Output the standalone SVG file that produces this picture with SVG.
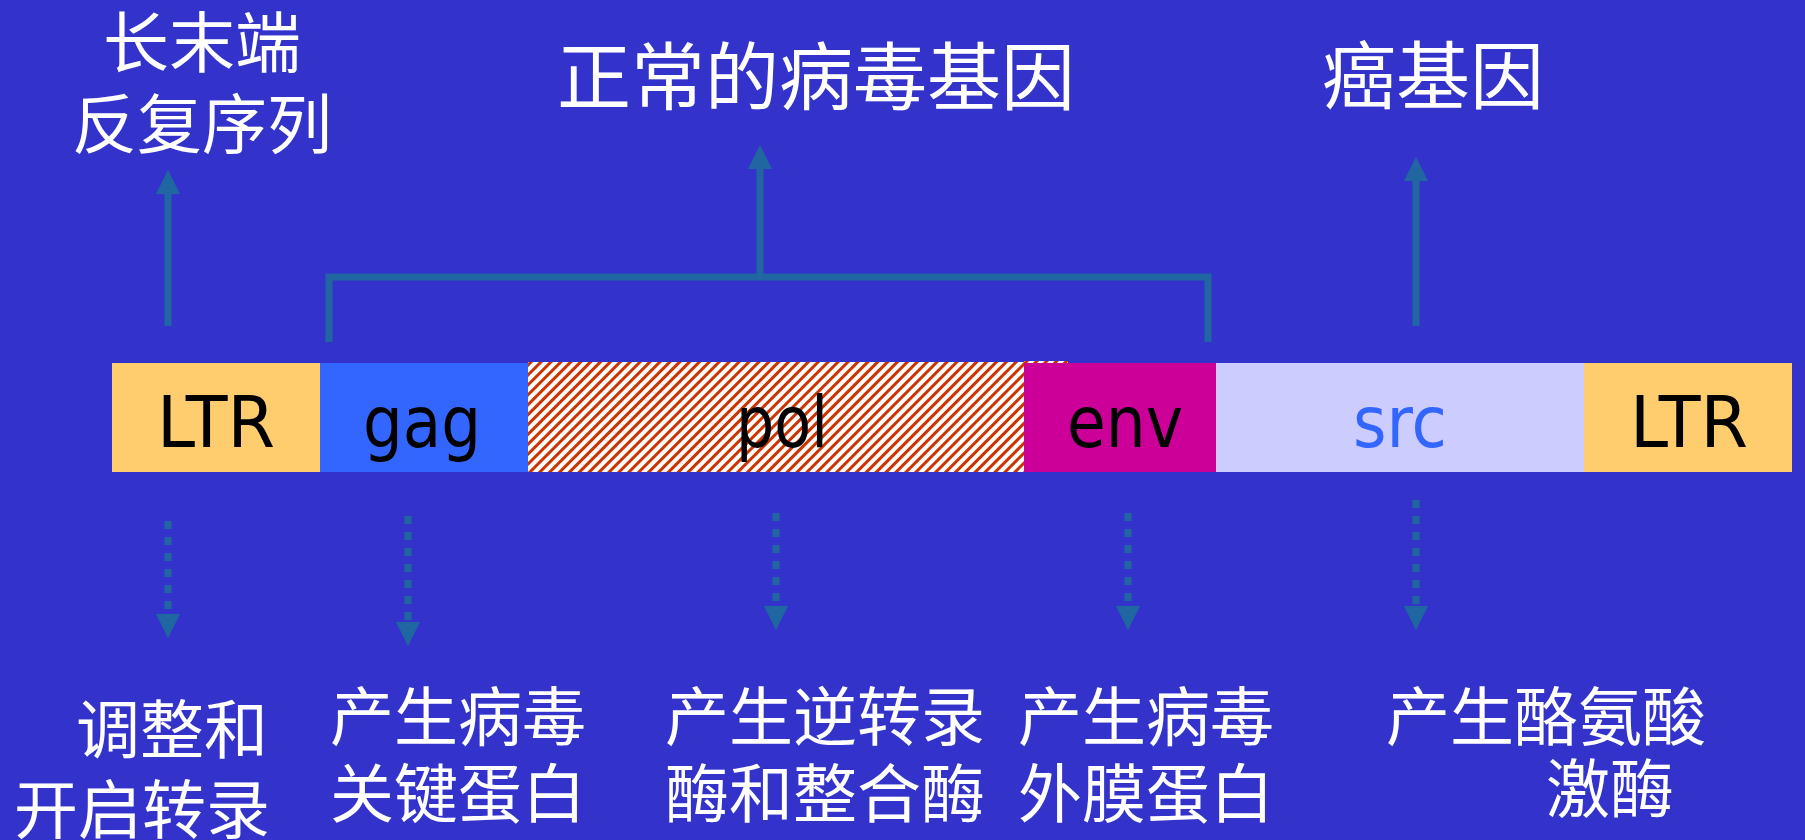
<svg xmlns="http://www.w3.org/2000/svg" width="1805" height="840" viewBox="0 0 1805 840">
  <style>
    .cjk { font-family: "Noto Sans CJK SC", sans-serif; fill: #ffffff; }
    .lab { font-family: "DejaVu Sans", "Liberation Sans", sans-serif; font-size: 72px; fill: #000000; text-anchor: middle; }
    .arr { stroke: #2066A0; stroke-width: 7; fill: none; }
    .dash { stroke: #2066A0; stroke-width: 7; fill: none; stroke-dasharray: 8 8; }
  </style>
  <defs>
    <pattern id="stripes" patternUnits="userSpaceOnUse" width="7" height="7" patternTransform="rotate(45)">
      <rect width="7" height="7" fill="#ffffff"/>
      <rect width="3" height="7" fill="#CC3300"/>
    </pattern>
    <marker id="head" viewBox="0 0 24 24" refX="0" refY="12" markerWidth="24" markerHeight="24" markerUnits="userSpaceOnUse" orient="auto">
      <path d="M0,0 L24,12 L0,24 z" fill="#2066A0"/>
    </marker>
  </defs>
  <rect width="1805" height="840" fill="#3333CC"/>

  <g id="title-ltr">
    <text class="cjk" x="202" y="67" font-size="66" text-anchor="middle">长末端</text>
    <text class="cjk" x="202" y="148" font-size="65" text-anchor="middle">反复序列</text>
  </g>
  <g id="title-normal">
    <text class="cjk" x="816" y="104" font-size="74" text-anchor="middle">正常的病毒基因</text>
  </g>
  <g id="title-onc">
    <text class="cjk" x="1433" y="103" font-size="74" text-anchor="middle">癌基因</text>
  </g>

  <g id="seg-ltr1">
    <rect x="112" y="363" width="208" height="109" fill="#FFCC6E"/>
    <text class="lab" x="216" y="447" textLength="118" lengthAdjust="spacingAndGlyphs">LTR</text>
  </g>
  <g id="seg-gag">
    <rect x="320" y="363" width="208" height="109" fill="#3366FF"/>
    <text class="lab" x="422" y="447" textLength="118" lengthAdjust="spacingAndGlyphs">gag</text>
  </g>
  <g id="seg-pol">
    <rect x="528" y="362" width="496" height="110" fill="url(#stripes)"/>
    <rect x="1024" y="361" width="44" height="2" fill="url(#stripes)"/>
    <text class="lab" x="782" y="447" textLength="92" lengthAdjust="spacingAndGlyphs">pol</text>
  </g>
  <g id="seg-env">
    <rect x="1024" y="363" width="192" height="109" fill="#CC0099"/>
    <text class="lab" x="1125" y="447" textLength="116" lengthAdjust="spacingAndGlyphs">env</text>
  </g>
  <g id="seg-src">
    <rect x="1216" y="363" width="368" height="109" fill="#CCCCFF"/>
    <text class="lab" x="1400" y="447" textLength="94" lengthAdjust="spacingAndGlyphs" style="fill:#3366FF">src</text>
  </g>
  <g id="seg-ltr2">
    <rect x="1584" y="363" width="208" height="109" fill="#FFCC6E"/>
    <text class="lab" x="1689" y="447" textLength="118" lengthAdjust="spacingAndGlyphs">LTR</text>
  </g>

  <g id="connectors">
    <line class="arr" x1="168" y1="326" x2="168" y2="194" marker-end="url(#head)"/>
    <path class="arr" d="M329,342 L329,277 L1208,277 L1208,342"/>
    <line class="arr" x1="760" y1="277" x2="760" y2="169" marker-end="url(#head)"/>
    <line class="arr" x1="1416" y1="326" x2="1416" y2="181" marker-end="url(#head)"/>

    <line class="dash" x1="168" y1="521" x2="168" y2="614" marker-end="url(#head)"/>
    <line class="dash" x1="408" y1="516" x2="408" y2="622" marker-end="url(#head)"/>
    <line class="dash" x1="776" y1="513" x2="776" y2="606" marker-end="url(#head)"/>
    <line class="dash" x1="1128" y1="513" x2="1128" y2="606" marker-end="url(#head)"/>
    <line class="dash" x1="1416" y1="500" x2="1416" y2="606" marker-end="url(#head)"/>
  </g>

  <g id="desc-ltr">
    <text class="cjk" x="268" y="753" font-size="64" text-anchor="end">调整和</text>
    <text class="cjk" x="270" y="833" font-size="64" text-anchor="end">开启转录</text>
  </g>
  <g id="desc-gag">
    <text class="cjk" x="330" y="740" font-size="64">产生病毒</text>
    <text class="cjk" x="330" y="817" font-size="64">关键蛋白</text>
  </g>
  <g id="desc-pol">
    <text class="cjk" x="665" y="740" font-size="64">产生逆转录</text>
    <text class="cjk" x="665" y="817" font-size="64">酶和整合酶</text>
  </g>
  <g id="desc-env">
    <text class="cjk" x="1018" y="740" font-size="64">产生病毒</text>
    <text class="cjk" x="1018" y="817" font-size="64">外膜蛋白</text>
  </g>
  <g id="desc-src">
    <text class="cjk" x="1386" y="740" font-size="64">产生酪氨酸</text>
    <text class="cjk" x="1546" y="812" font-size="64">激酶</text>
  </g>
</svg>
